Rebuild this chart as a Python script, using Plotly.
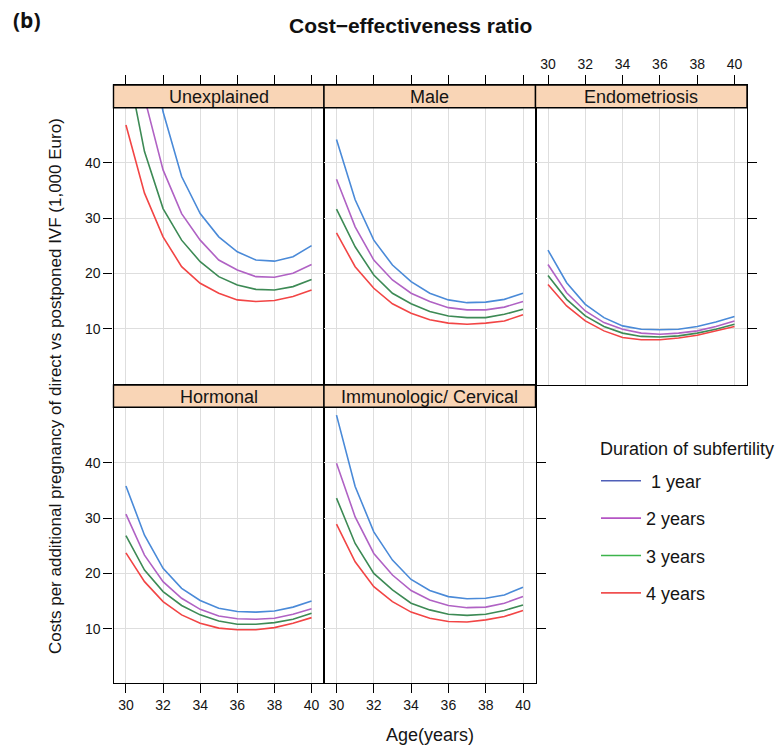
import plotly.graph_objects as go

# ---------------- data ----------------
ages = [30, 31, 32, 33, 34, 35, 36, 37, 38, 39, 40]
durations = ["1 year", "2 years", "3 years", "4 years"]
panels = ["Unexplained", "Male", "Endometriosis", "Hormonal", "Immunologic/ Cervical"]

unexplained_1y = [95.0, 67.0, 49.2, 37.5, 30.8, 26.6, 23.9, 22.4, 22.2, 23.0, 25.0]
unexplained_2y = [72.0, 51.7, 38.7, 30.8, 26.0, 22.4, 20.6, 19.4, 19.3, 20.0, 21.6]
unexplained_3y = [59.0, 42.0, 31.7, 26.0, 22.1, 19.4, 17.9, 17.1, 17.0, 17.6, 18.9]
unexplained_4y = [46.8, 34.5, 26.6, 21.2, 18.2, 16.4, 15.2, 14.9, 15.1, 15.8, 17.0]

male_1y = [44.2, 33.3, 26.0, 21.5, 18.5, 16.4, 15.2, 14.7, 14.8, 15.3, 16.4]
male_2y = [37.0, 28.4, 22.4, 18.8, 16.4, 14.9, 13.8, 13.4, 13.4, 13.9, 14.9]
male_3y = [31.6, 24.8, 19.7, 16.4, 14.5, 13.1, 12.3, 12.0, 12.0, 12.6, 13.5]
male_4y = [27.3, 21.2, 17.3, 14.5, 12.8, 11.6, 11.0, 10.8, 11.0, 11.4, 12.5]

endo_1y = [24.2, 18.3, 14.4, 12.0, 10.5, 9.9, 9.8, 9.9, 10.4, 11.2, 12.2]
endo_2y = [21.6, 16.5, 13.2, 11.1, 9.9, 9.2, 9.0, 9.2, 9.6, 10.4, 11.4]
endo_3y = [19.6, 15.3, 12.3, 10.4, 9.2, 8.6, 8.5, 8.7, 9.2, 9.9, 10.8]
endo_4y = [18.0, 14.1, 11.4, 9.6, 8.4, 8.0, 8.0, 8.3, 8.8, 9.6, 10.4]

hormonal_1y = [35.8, 26.9, 20.9, 17.3, 15.1, 13.7, 13.1, 13.0, 13.2, 13.9, 15.0]
hormonal_2y = [30.7, 23.3, 18.5, 15.5, 13.5, 12.3, 11.8, 11.7, 11.9, 12.6, 13.6]
hormonal_3y = [26.8, 20.6, 16.7, 14.2, 12.5, 11.4, 10.8, 10.8, 11.1, 11.7, 12.8]
hormonal_4y = [23.7, 18.5, 14.9, 12.5, 11.0, 10.1, 9.8, 9.8, 10.2, 11.0, 12.0]

immuno_1y = [48.6, 35.7, 27.5, 22.4, 18.9, 16.9, 15.8, 15.4, 15.5, 16.1, 17.5]
immuno_2y = [39.9, 30.2, 23.6, 19.7, 16.9, 15.2, 14.2, 13.8, 13.9, 14.6, 15.8]
immuno_3y = [33.6, 25.4, 20.0, 17.0, 14.6, 13.4, 12.6, 12.4, 12.6, 13.3, 14.3]
immuno_4y = [28.9, 22.1, 17.6, 14.9, 13.0, 11.9, 11.3, 11.2, 11.6, 12.2, 13.3]

panel_series = [
    [unexplained_1y, unexplained_2y, unexplained_3y, unexplained_4y],
    [male_1y, male_2y, male_3y, male_4y],
    [endo_1y, endo_2y, endo_3y, endo_4y],
    [hormonal_1y, hormonal_2y, hormonal_3y, hormonal_4y],
    [immuno_1y, immuno_2y, immuno_3y, immuno_4y],
]
x_ticks = [30, 32, 34, 36, 38, 40]
y_ticks = [10, 20, 30, 40]

# ---------------- styling / layout ----------------
W, H = 775, 748
def fx(p):
    return p / W
def fy(p):
    return 1 - p / H

line_colors = ["#4a8ad8", "#b062c4", "#3d8a55", "#f24545"]
legend_colors = ["#4f5fb8", "#b455c4", "#3cb44b", "#f05050"]
FONT = "Liberation Sans, Arial, sans-serif"
STRIP_FILL = "#f9d5b6"
GRID = "#dedede"
TXT = "#141414"

col_edges = [113.5, 324.0, 535.5, 747.0]
rows = [
    dict(top=85.0, strip_bottom=107.7, bottom=385.0, yr=[-0.18, 54.04]),
    dict(top=385.0, strip_bottom=407.3, bottom=682.7, yr=[0.24, 54.04]),
]
positions = [(0, 0), (0, 1), (0, 2), (1, 0), (1, 1)]
x_range = [29.33, 40.67]

fig = go.Figure()
shapes = []
annotations = []
layout = {}

for i, (name, series, (r, c)) in enumerate(zip(panels, panel_series, positions), start=1):
    xa = "x" if i == 1 else f"x{i}"
    ya = "y" if i == 1 else f"y{i}"
    for k, vals in enumerate(series):
        fig.add_trace(go.Scatter(
            x=ages, y=vals, mode="lines", xaxis=xa, yaxis=ya,
            line=dict(color=line_colors[k], width=1.6),
            showlegend=False, name=durations[k], hoverinfo="skip",
        ))
    row = rows[r]
    x0, x1 = col_edges[c], col_edges[c + 1]
    xkey = "xaxis" if i == 1 else f"xaxis{i}"
    ykey = "yaxis" if i == 1 else f"yaxis{i}"
    layout[xkey] = dict(
        domain=[fx(x0), fx(x1)], range=x_range, anchor=ya,
        tickmode="array", tickvals=x_ticks,
        showgrid=True, gridcolor=GRID, gridwidth=1.3, zeroline=False,
        showline=True, mirror=True, linecolor="black", linewidth=1.4,
        side="top" if r == 0 else "bottom",
        ticks="outside", ticklen=9, tickwidth=1.3, tickcolor="black",
        showticklabels=(name == "Endometriosis") or r == 1,
        tickfont=dict(family=FONT, size=14, color=TXT),
        fixedrange=True,
    )
    if c == 0:
        yticks, yside, ylabels = "outside", "left", True
    elif (r == 0 and c == 2) or (r == 1 and c == 1):
        yticks, yside, ylabels = "outside", "right", False
    else:
        yticks, yside, ylabels = "", "left", False
    layout[ykey] = dict(
        domain=[fy(row["bottom"]), fy(row["top"])], range=row["yr"], anchor=xa,
        tickmode="array", tickvals=y_ticks,
        showgrid=True, gridcolor=GRID, gridwidth=1.3, zeroline=False,
        showline=True, mirror=True, linecolor="black", linewidth=1.4,
        side=yside, ticks=yticks, ticklen=9, tickwidth=1.3, tickcolor="black",
        showticklabels=ylabels,
        tickfont=dict(family=FONT, size=14, color=TXT),
        fixedrange=True,
    )
    # strip
    shapes.append(dict(
        type="rect", xref="paper", yref="paper", layer="above",
        x0=fx(x0), x1=fx(x1), y0=fy(row["strip_bottom"]), y1=fy(row["top"]),
        fillcolor=STRIP_FILL, line=dict(color="black", width=1.4),
    ))
    annotations.append(dict(
        text=name, xref="paper", yref="paper", showarrow=False,
        x=fx((x0 + x1) / 2), y=fy((row["top"] + row["strip_bottom"]) / 2 + 0.5),
        xanchor="center", yanchor="middle",
        font=dict(family=FONT, size=18, color=TXT),
    ))

# legend-only traces
for k, d in enumerate(durations):
    fig.add_trace(go.Scatter(
        x=[None], y=[None], mode="lines", name=(" " + d) if k == 0 else d,
        line=dict(color=legend_colors[k], width=1.6),
        legendgroup=d, showlegend=True,
    ))

annotations += [
    dict(text="<b>(b)</b>", xref="paper", yref="paper", x=fx(11), y=fy(20),
         xanchor="left", yanchor="middle", showarrow=False,
         font=dict(family="Open Sans, Liberation Sans, sans-serif", size=21, color="#111111")),
    dict(text="<b>Cost\u2212effectiveness ratio</b>", xref="paper", yref="paper",
         x=fx(411), y=fy(25), xanchor="center", yanchor="middle", showarrow=False,
         font=dict(family=FONT, size=21, color="#111111")),
    dict(text="Age(years)", xref="paper", yref="paper", x=fx(430), y=fy(735),
         xanchor="center", yanchor="middle", showarrow=False,
         font=dict(family=FONT, size=18, color=TXT)),
    dict(text="Costs per additional pregnancy of direct vs postponed IVF (1,000 Euro)",
         xref="paper", yref="paper", x=fx(56), y=fy(386), textangle=-90,
         xanchor="center", yanchor="middle", showarrow=False,
         font=dict(family=FONT, size=17, color=TXT)),
    dict(text="Duration of subfertility", xref="paper", yref="paper",
         x=fx(598), y=fy(449), xanchor="left", yanchor="middle", showarrow=False,
         font=dict(family=FONT, size=18, color=TXT)),
]

fig.update_layout(
    width=W, height=H,
    margin=dict(l=0, r=0, t=0, b=0),
    paper_bgcolor="white", plot_bgcolor="white",
    shapes=shapes, annotations=annotations,
    showlegend=True,
    legend=dict(
        x=fx(596), y=fy(462.5), xanchor="left", yanchor="top",
        bgcolor="rgba(0,0,0,0)", borderwidth=0,
        font=dict(family=FONT, size=18, color=TXT),
        tracegroupgap=11, itemwidth=40, traceorder="grouped",
    ),
    **layout,
)

fig.write_html("out.html")
